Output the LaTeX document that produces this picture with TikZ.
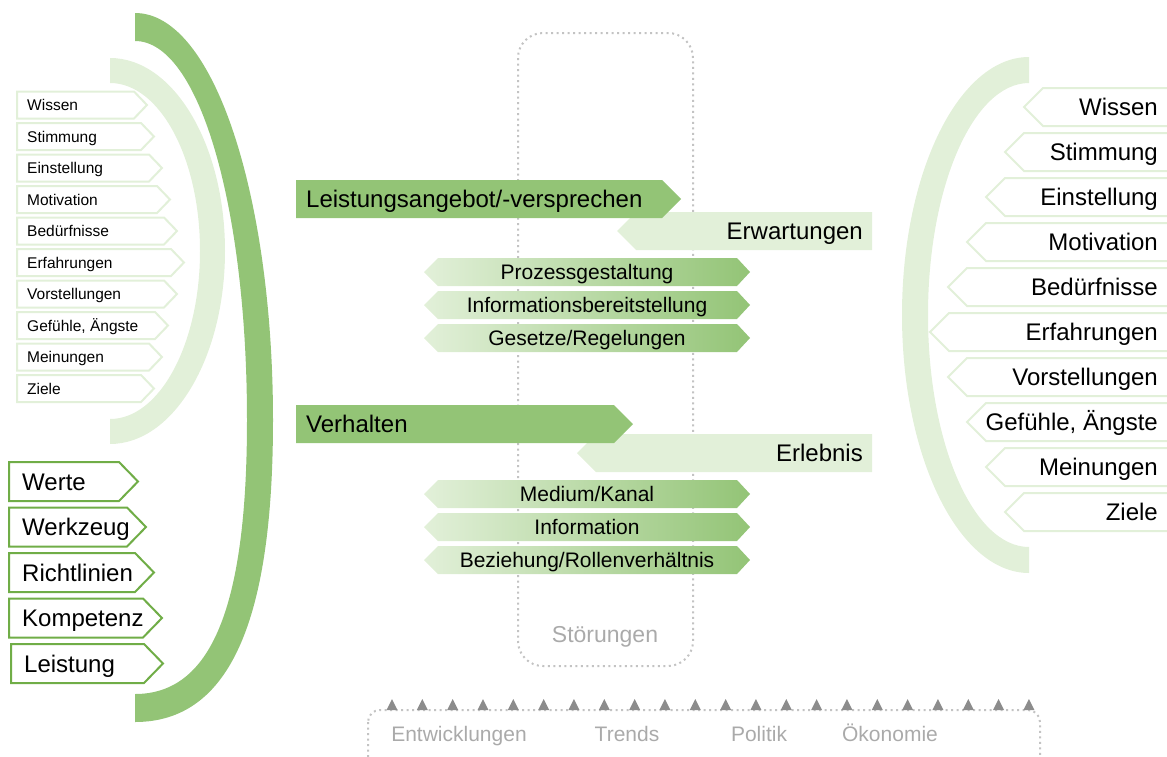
\documentclass[tikz,border=0pt]{standalone}
\usepackage{fontspec}
\setmainfont{Liberation Sans}
\usetikzlibrary{positioning}

\definecolor{leafgreen}{RGB}{147,196,118}
\definecolor{palegreen}{RGB}{226,240,217}
\definecolor{framegreen}{RGB}{112,173,71}
\definecolor{fadegray}{RGB}{170,170,170}
\definecolor{dotgray}{RGB}{195,195,195}
\definecolor{markgray}{RGB}{140,140,140}

\tikzset{
  bigtxt/.style={font=\fontsize{24}{28}\selectfont, inner sep=0pt},
  smalltxt/.style={font=\fontsize{15.5}{18}\selectfont, inner sep=0pt},
  bartxt/.style={font=\fontsize{21}{24}\selectfont, inner sep=0pt},
  greytxt/.style={font=\fontsize{23}{26}\selectfont, text=fadegray, inner sep=0pt},
  dotline/.style={dotgray, line width=2pt, dash pattern=on 2pt off 3.5pt}
}

\begin{document}
\begin{tikzpicture}[x=1pt,y=-1pt]
    \useasboundingbox (0,0) rectangle (1167,756);
    \clip (0,0) rectangle (1167,756);

    % Stoerungen frame
    \draw[dotline, rounded corners=25pt] (518,33) rectangle (693,666);
    \node[greytxt, anchor=base] (stoer) at (605,642) {Störungen};

    % outer dark arc
    \fill[leafgreen] (135,13) .. controls (215,13) and (273,200) .. (273,420)
        .. controls (273,620) and (230,722) .. (135,722) -- (135,694)
        .. controls (210,694) and (247,610) .. (247,420)
        .. controls (247,210) and (200,41) .. (135,41) -- cycle;

    % light arcs
    \begin{scope}
        \clip (110,0) rectangle (300,500);
        \fill[palegreen, even odd rule] (110,251) ellipse [x radius=115pt, y radius=193pt]
            (110,251) ellipse [x radius=90pt, y radius=168pt];
    \end{scope}
    \begin{scope}
        \clip (850,0) rectangle (1029,600);
        \fill[palegreen, even odd rule] (1029,315) ellipse [x radius=127pt, y radius=258pt]
            (1029,315) ellipse [x radius=101pt, y radius=232pt];
    \end{scope}

    % left: small tags
    \foreach \tip/\name [count=\i from 0] in {147/Wissen, 154/Stimmung, 162/Einstellung,
        170/Motivation, 177/Bedürfnisse, 184/Erfahrungen, 177/Vorstellungen,
        168/{Gefühle, Ängste}, 162/Meinungen, 154/Ziele} {
        \pgfmathsetmacro\yc{105+31.5*\i}
        \draw[palegreen, line width=2pt, fill=white] (17,\yc-13.5) -- (\tip-13,\yc-13.5)
            -- (\tip,\yc) -- (\tip-13,\yc+13.5) -- (17,\yc+13.5) -- cycle;
        \node[smalltxt, anchor=base west] (ltag\i) at (27,\yc+5.5) {\name};
    }

    % left: big tags
    \foreach \lx/\tip/\name [count=\i from 0] in {9/138/Werte, 9/146/Werkzeug,
        9/154/Richtlinien, 9/162/Kompetenz, 11/163/Leistung} {
        \pgfmathsetmacro\yc{481.5+45.5*\i}
        \draw[framegreen, line width=2pt, fill=white] (\lx,\yc-19.5) -- (\tip-19,\yc-19.5)
            -- (\tip,\yc) -- (\tip-19,\yc+19.5) -- (\lx,\yc+19.5) -- cycle;
        \node[bigtxt, anchor=base west] (lbig\i) at (\lx+13,\yc+8.6) {\name};
    }

    % right tags
    \foreach \tip/\name [count=\i from 0] in {1024/Wissen, 1005/Stimmung, 986/Einstellung,
        967/Motivation, 948/Bedürfnisse, 930/Erfahrungen, 948/Vorstellungen,
        967/{Gefühle, Ängste}, 986/Meinungen, 1005/Ziele} {
        \pgfmathsetmacro\yc{107+45*\i}
        \draw[palegreen, line width=2pt, fill=white] (1180,\yc-19) -- (\tip+19,\yc-19)
            -- (\tip,\yc) -- (\tip+19,\yc+19) -- (1180,\yc+19) -- cycle;
        \node[bigtxt, anchor=base east] (rtag\i) at (1158,\yc+8.6) {\name};
    }

    % upper block
    \fill[palegreen] (636,212) -- (872,212) -- (872,250) -- (636,250) -- (617,231) -- cycle;
    \node[bigtxt, anchor=base east] (erw) at (863,239.6) {Erwartungen};
    \fill[leafgreen] (296,180) -- (662,180) -- (681,199) -- (662,218) -- (296,218) -- cycle;
    \node[bigtxt, anchor=base west] (angebot) at (306,207.6) {Leistungsangebot/-versprechen};

    % lower block
    \fill[palegreen] (596,434) -- (872,434) -- (872,472) -- (596,472) -- (577,453) -- cycle;
    \node[bigtxt, anchor=base east] (erl) at (863,461.6) {Erlebnis};
    \fill[leafgreen] (296,405) -- (614,405) -- (633,424) -- (614,443) -- (296,443) -- cycle;
    \node[bigtxt, anchor=base west] (verh) at (306,432.6) {Verhalten};

    % gradient bars
    \foreach \yc/\name [count=\i] in {272/Prozessgestaltung, 305/Informationsbereitstellung,
        338/Gesetze\slash Regelungen, 494/Medium\slash Kanal, 527/Information,
        560/Beziehung\slash Rollenverhältnis} {
        \shade[left color=palegreen, right color=leafgreen] (438,\yc-14) -- (737,\yc-14)
            -- (750,\yc) -- (737,\yc+14) -- (438,\yc+14) -- (424,\yc) -- cycle;
        \node[bartxt, anchor=base] (bar\i) at (587,\yc+7.5) {\name};
    }

    % environment frame
    \draw[dotline, rounded corners=12pt] (368,710) rectangle (1040,790);
    \foreach \k in {0,...,21}
        \fill[markgray] ({392+30.33*\k-5.5},710) -- ({392+30.33*\k+5.5},710)
            -- ({392+30.33*\k},699) -- cycle;
    \foreach \xc/\name [count=\i] in {459/Entwicklungen, 627/Trends, 759/Politik, 890/Ökonomie}
        \node[greytxt, font=\fontsize{21}{24}\selectfont, anchor=base] (env\i) at (\xc,741) {\name};
\end{tikzpicture}
\end{document}
